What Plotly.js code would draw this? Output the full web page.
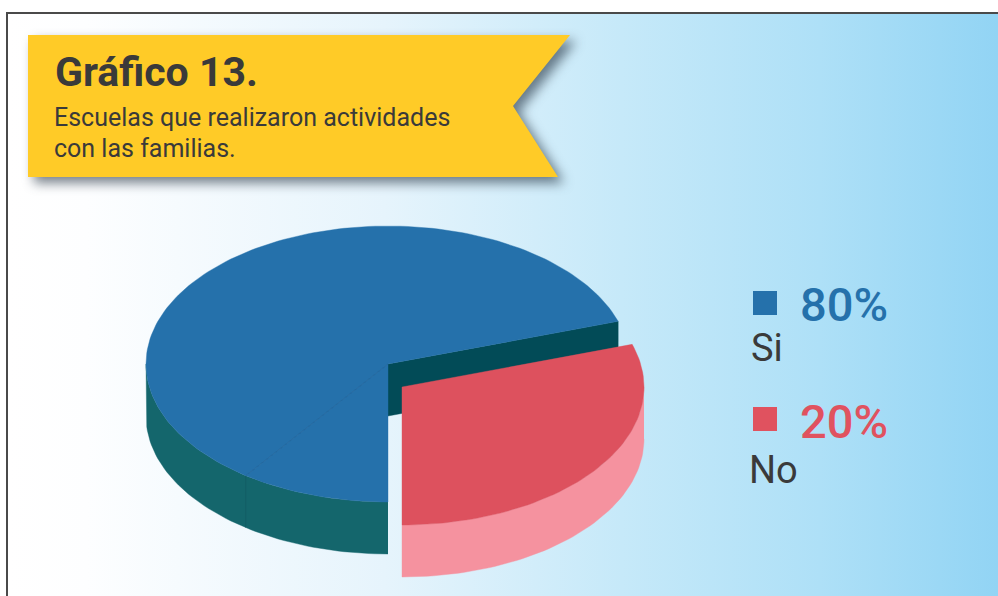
<!DOCTYPE html>
<html>
<head>
<meta charset="utf-8">
<script src="https://cdn.plot.ly/plotly-3.0.1.min.js"></script>
<style>
html,body{margin:0;padding:0;background:#fff;width:998px;height:596px;overflow:hidden}
#frame{position:absolute;left:6px;top:12px;width:992px;height:584px;box-sizing:border-box;border-left:2px solid #4a4a4a;border-top:2px solid #4a4a4a;
background:linear-gradient(90deg,#ffffff 0%,#fdfeff 8%,#e6f4fc 38%,#c6e9f9 62%,#aee0f7 82%,#92d4f4 100%)}
#plot{position:absolute;left:0;top:0;width:998px;height:596px}
</style>
</head>
<body>
<div id="frame"></div>
<div id="plot"></div>
<script>
// Printed labels, as they read in the picture
const categories = ['Si', 'No'];
const labelValues = [80, 20];
// Shares as actually drawn in the picture (they differ from the printed labels)
const drawnSeamShare = 10;
const drawnBlueShare = 60;
const drawnRedShare = 30;

const FONT = 'Roboto, sans-serif';
const INK = '#3a3a3a';
const BLUE = '#2571ab', TEAL = '#14666c', WALL = '#024b57', SEAM = '#1f639a', SEAM2 = '#125c63';
const RED = '#dd515e', PINK = '#f5929f', YELLOW = '#ffcb27';

// Pie projection
const RX = 242, RY = 138, DEPTH = 52;
const blueC = [388, 364], redC = [402, 387];
const START = 90;
const deg = s => s * 3.6;
const tSeam = START + deg(drawnSeamShare);
const tBlueEnd = tSeam + deg(drawnBlueShare);
const tRedEnd = tBlueEnd + deg(drawnRedShare);

const pt = (c, t, dy = 0) => [c[0] + RX * Math.cos(t * Math.PI / 180), c[1] + RY * Math.sin(t * Math.PI / 180) + dy];
function arc(c, a, b, dy = 0) {
  const n = Math.max(8, Math.ceil(Math.abs(b - a) / 1.5)), out = [];
  for (let i = 0; i <= n; i++) out.push(pt(c, a + (b - a) * i / n, dy));
  return out;
}
function poly(points, color) {
  return { type: 'scatter', mode: 'lines', x: points.map(p => p[0]), y: points.map(p => p[1]),
    fill: 'toself', fillcolor: color, line: { color: color, width: 0.4 }, hoverinfo: 'skip', showlegend: false };
}
function seg(a, b, color) {
  return { type: 'scatter', mode: 'lines', x: [a[0], b[0]], y: [a[1], b[1]], line: { color: color, width: 0.8 }, hoverinfo: 'skip', showlegend: false };
}
const wedge = (c, a, b) => [c].concat(arc(c, a, b)).concat([c]);
const side = (c, a, b) => arc(c, a, b).concat(arc(c, b, a, DEPTH));

const blueEdge = pt(blueC, tBlueEnd);
const data = [
  poly(side(blueC, START, 180), TEAL),
  seg(pt(blueC, tSeam), pt(blueC, tSeam, DEPTH), SEAM2),
  poly([blueC, blueEdge, [blueEdge[0], blueEdge[1] + DEPTH], [blueC[0], blueC[1] + DEPTH]], WALL),
  poly(wedge(blueC, START, tSeam), BLUE),
  poly(wedge(blueC, tSeam, tBlueEnd), BLUE),
  seg(blueC, pt(blueC, tSeam), SEAM),
  poly(side(redC, 360, tRedEnd), PINK),
  poly(wedge(redC, tBlueEnd, tRedEnd), RED),
  { type: 'scatter', mode: 'markers', x: [765, 765], y: [303, 419],
    marker: { symbol: 'square', size: 24, color: [BLUE, '#e0525f'] }, hoverinfo: 'skip', showlegend: false }
];

// Banner outline and its soft shadow
const bannerPath = 'M28,35 L570,35 L513,106 L558,177 L28,177 Z';
const shadowPath = 'M34,41 L576,41 L519,112 L564,183 L34,183 Z';
const shapes = [
  { type: 'path', xref: 'x', yref: 'y', path: shadowPath, layer: 'below', fillcolor: 'rgba(30,45,60,0.6)', line: { width: 0 } },
  { type: 'path', xref: 'x', yref: 'y', path: bannerPath, layer: 'below', fillcolor: YELLOW, line: { width: 0 } }
];

function label(text, x, y, size, color, weight) {
  return { text, x, y, xref: 'x', yref: 'y', xanchor: 'left', yanchor: 'middle', showarrow: false, align: 'left',
    font: { family: FONT, size, color, weight: weight || 400 } };
}
const annotations = [
  label('Gráfico 13.', 53, 72, 41, INK, 700),
  label('Escuelas que realizaron actividades', 52, 117, 25, INK),
  label('con las familias.', 52, 148, 25, INK),
  label(labelValues[0] + '%', 798, 304, 47, BLUE, 500),
  label(categories[0], 749, 348, 38, INK),
  label(labelValues[1] + '%', 798, 421, 47, '#e0525f', 500),
  label(categories[1], 747, 470, 38, INK)
];

const layout = {
  width: 998, height: 596, margin: { l: 0, r: 0, t: 0, b: 0, pad: 0 },
  paper_bgcolor: 'rgba(0,0,0,0)', plot_bgcolor: 'rgba(0,0,0,0)',
  xaxis: { range: [0, 998], visible: false, fixedrange: true },
  yaxis: { range: [596, 0], visible: false, fixedrange: true },
  hovermode: false, showlegend: false, shapes, annotations
};
Plotly.newPlot('plot', data, layout, { displayModeBar: false, staticPlot: true }).then(gd => {
  // Blur only the first shape, the banner's shadow
  const shadow = gd.querySelector('.shapelayer path');
  if (shadow) shadow.style.filter = 'blur(6px)';
});
</script>
</body>
</html>
